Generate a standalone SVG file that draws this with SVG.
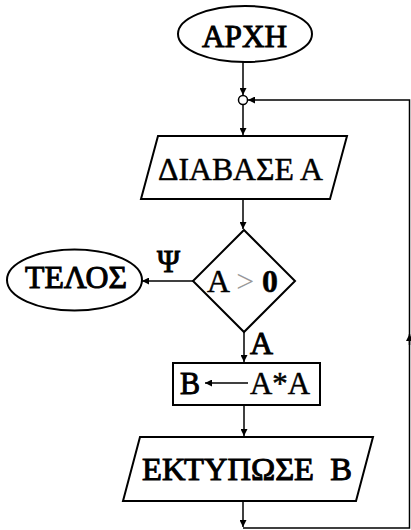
<svg xmlns="http://www.w3.org/2000/svg" width="411" height="530" viewBox="0 0 411 530">
  <style>
    .shape { fill: #fff; stroke: #000; stroke-width: 2; }
    .edge { fill: none; stroke: #000; stroke-width: 1.5; }
    .lbl { font-family: "Liberation Serif", "DejaVu Serif", "Times New Roman", serif; font-size: 32px; fill: #000; stroke: #000; stroke-width: 0.5; }
    .heavy { stroke-width: 1; }
  </style>
  <defs>
    <marker id="arr" viewBox="0 0 8 8" refX="8" refY="4" markerWidth="7" markerHeight="7" markerUnits="userSpaceOnUse" orient="auto">
      <path d="M0,0 L8,4 L0,8 Z" fill="#000"/>
    </marker>
  </defs>
  <rect width="411" height="530" fill="#fff"/>

  <g id="connectors">
    <line class="edge" x1="243" y1="62" x2="243" y2="95" marker-end="url(#arr)"/>
    <line class="edge" x1="243" y1="104.5" x2="243" y2="135" marker-end="url(#arr)"/>
    <line class="edge" x1="243" y1="199" x2="243" y2="229" marker-end="url(#arr)"/>
    <line class="edge" x1="193" y1="281" x2="142" y2="281" marker-end="url(#arr)"/>
    <line class="edge" x1="244" y1="332" x2="244" y2="362" marker-end="url(#arr)"/>
    <line class="edge" x1="244" y1="405" x2="244" y2="436" marker-end="url(#arr)"/>
    <line class="edge" x1="243" y1="501" x2="243" y2="527" marker-end="url(#arr)"/>
    <path class="edge" d="M243,528 H409.5 V100 H248" marker-end="url(#arr)"/>
    <line class="edge" x1="409.5" y1="345" x2="409.5" y2="334" marker-end="url(#arr)"/>
    <text class="lbl heavy" x="157" y="272" textLength="23" lengthAdjust="spacingAndGlyphs">Ψ</text>
    <text class="lbl heavy" x="250" y="354" textLength="23" lengthAdjust="spacingAndGlyphs">Α</text>
  </g>

  <g id="start">
    <ellipse class="shape" cx="245" cy="34" rx="67" ry="28"/>
    <text class="lbl heavy" x="202" y="47" textLength="85" lengthAdjust="spacingAndGlyphs">ΑΡΧΗ</text>
  </g>

  <g id="join">
    <circle cx="243" cy="100" r="4.5" fill="#fff" stroke="#000" stroke-width="1.5"/>
  </g>

  <g id="read">
    <polygon class="shape" points="158,136 347,136 330,199 141,199"/>
    <text class="lbl" x="158" y="180" textLength="165" lengthAdjust="spacingAndGlyphs">ΔΙΑΒΑΣΕ Α</text>
  </g>

  <g id="test">
    <polygon class="shape" points="244,230 295,281 244,332 193,281"/>
    <text class="lbl" x="207" y="292" textLength="71" lengthAdjust="spacingAndGlyphs">Α <tspan fill="#999" stroke="none">&gt;</tspan> <tspan font-weight="bold">0</tspan></text>
  </g>

  <g id="end">
    <ellipse class="shape" cx="74.5" cy="280" rx="67.5" ry="30.5"/>
    <text class="lbl heavy" x="25" y="288" textLength="102" lengthAdjust="spacingAndGlyphs">ΤΕΛΟΣ</text>
  </g>

  <g id="assign">
    <rect class="shape" x="173" y="363" width="147" height="42"/>
    <text class="lbl heavy" x="180" y="394" textLength="20" lengthAdjust="spacingAndGlyphs">Β</text>
    <line class="edge" x1="248" y1="383" x2="205" y2="383" marker-end="url(#arr)"/>
    <text class="lbl" x="250" y="394" textLength="60" lengthAdjust="spacingAndGlyphs">Α*Α</text>
  </g>

  <g id="print">
    <polygon class="shape" points="140,437 373,437 356,501 123,501"/>
    <text class="lbl heavy" x="142" y="480" textLength="210" lengthAdjust="spacingAndGlyphs" xml:space="preserve">ΕΚΤΥΠΩΣΕ  Β</text>
  </g>
</svg>
